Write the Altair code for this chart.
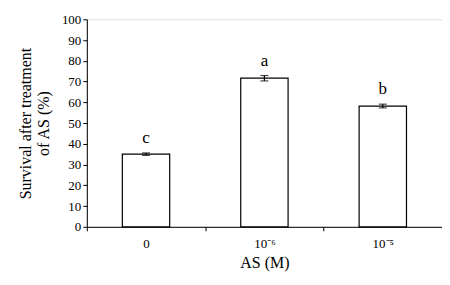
import altair as alt
import pandas as pd

categories = ["0", "10⁻⁶", "10⁻⁵"]
survival = [35.0, 71.6, 58.2]
errors = [0.6, 1.3, 0.9]
letters = ["c", "a", "b"]

df = pd.DataFrame({
    "cat": categories,
    "val": survival,
    "err": errors,
    "letter": letters,
})
df["lo"] = df["val"] - df["err"]
df["hi"] = df["val"] + df["err"]

FONT = "Liberation Serif"
YTITLE = ["Survival after treatment", "of AS (%)"]
XTITLE = "AS (M)"


def X():
    return alt.X("cat:N", sort=categories, title=XTITLE,
                 scale=alt.Scale(paddingInner=0, paddingOuter=0))


def Y(field):
    return alt.Y(field, title=YTITLE, scale=alt.Scale(domain=[0, 100], nice=False))


base = alt.Chart(df)

bars = base.mark_bar(width={"band": 0.4}, fill="white", stroke="black", strokeWidth=1.2).encode(
    x=X(), y=Y("val:Q"))

err = base.mark_rule(color="black", strokeWidth=1.2).encode(x=X(), y=Y("lo:Q"), y2="hi:Q")
cap_lo = base.mark_tick(color="black", orient="horizontal", size=8, thickness=1.2).encode(
    x=X(), y=Y("lo:Q"))
cap_hi = base.mark_tick(color="black", orient="horizontal", size=8, thickness=1.2).encode(
    x=X(), y=Y("hi:Q"))

text = base.mark_text(font=FONT, fontSize=17, dy=-10, baseline="alphabetic", color="black").encode(
    x=X(), y=Y("hi:Q"), text="letter:N")

chart = alt.layer(bars, err, cap_lo, cap_hi, text).properties(
    width=356, height=208,
    autosize=alt.AutoSizeParams(type="none"),
    padding={"left": 79, "top": 11, "right": 0, "bottom": 50},
).configure_view(strokeWidth=0).configure(
    background="white", font=FONT,
    style={"guide-label": {"font": FONT, "fontSize": 13, "fill": "black"},
           "guide-title": {"font": FONT, "fontSize": 16, "fill": "black", "fontWeight": "normal"}},
).configure_axis(
    grid=False, tickSize=4, domainColor="black", tickColor="black",
    labelFont=FONT, titleFont=FONT, titleFontWeight="normal",
    labelColor="black", titleColor="black", titleFontSize=16, labelFontSize=13,
).configure_axisX(
    labelAngle=0, tickBand="extent", labelPadding=7, titlePadding=4, labelFontSize=13,
).configure_axisY(
    tickCount=10, labelOverlap=False, labelFontSize=13,
    labelPadding=2, titlePadding=10, titleLineHeight=18,
)

chart.save("out.html", embed_options={"renderer": "svg", "actions": False})
